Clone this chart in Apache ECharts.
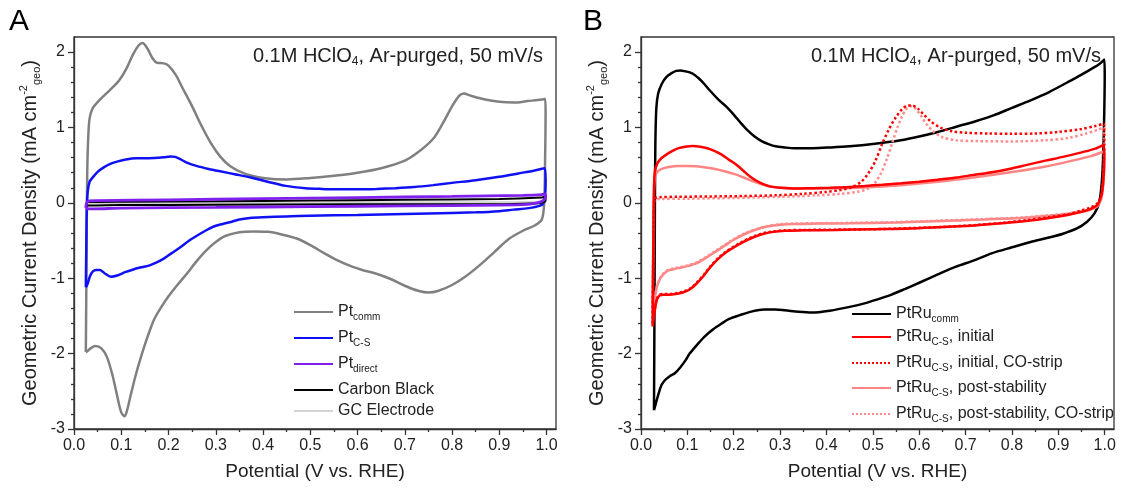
<!DOCTYPE html>
<html>
<head>
<meta charset="utf-8">
<script src="https://cdn.jsdelivr.net/npm/echarts@6/dist/echarts.min.js"></script>
<style>
  html, body { margin: 0; padding: 0; background: #fff; }
  #chart { width: 1124px; height: 491px; }
</style>
</head>
<body>
<div id="chart"></div>
<script>
// ---- tick values ----
const xMajorTicks = [0, 0.1, 0.2, 0.3, 0.4, 0.5, 0.6, 0.7, 0.8, 0.9, 1.0];
const xMinorTicks = [0.05, 0.15, 0.25, 0.35, 0.45, 0.55, 0.65, 0.75, 0.85, 0.95];
const yMajorTicks = [-3, -2, -1, 0, 1, 2];
const yMinorTicks = [-2.8, -2.6, -2.4, -2.2, -1.8, -1.6, -1.4, -1.2, -0.8, -0.6, -0.4, -0.2,
  0.2, 0.4, 0.6, 0.8, 1.2, 1.4, 1.6, 1.8];

// ---- panel A: Pt (potential V, current mA/cm2) ----
const ptCommAnodic = [[0.025,-1.98],[0.026,-1.2],[0.027,-0.3],[0.028,0.4],[0.030,0.85],[0.033,1.12],[0.040,1.26],
  [0.055,1.37],[0.075,1.49],[0.095,1.62],[0.110,1.77],[0.125,1.97],[0.137,2.09],[0.145,2.12],[0.155,2.05],
  [0.165,1.93],[0.175,1.86],[0.190,1.85],[0.200,1.82],[0.215,1.70],[0.230,1.52],[0.250,1.28],[0.270,1.02],
  [0.290,0.79],[0.310,0.61],[0.330,0.49],[0.360,0.39],[0.390,0.34],[0.420,0.315],[0.450,0.31],[0.500,0.33],
  [0.550,0.36],[0.600,0.40],[0.650,0.46],[0.700,0.56],[0.730,0.68],[0.760,0.85],[0.780,1.05],[0.800,1.28],
  [0.815,1.42],[0.825,1.45],[0.840,1.42],[0.870,1.37],[0.900,1.34],[0.930,1.33],[0.960,1.35],[0.990,1.37],[0.997,1.38]];
const ptCommCathodic = [[0.998,1.2],[0.997,0.6],[0.995,0.0],[0.990,-0.22],[0.975,-0.30],[0.950,-0.37],[0.920,-0.48],
  [0.890,-0.65],[0.860,-0.82],[0.830,-0.97],[0.800,-1.09],[0.770,-1.17],[0.750,-1.19],[0.730,-1.17],[0.700,-1.10],
  [0.670,-1.01],[0.640,-0.94],[0.610,-0.89],[0.590,-0.85],[0.560,-0.77],[0.530,-0.67],[0.500,-0.56],[0.470,-0.47],
  [0.440,-0.42],[0.410,-0.385],[0.380,-0.38],[0.350,-0.39],[0.320,-0.44],[0.300,-0.52],[0.280,-0.63],[0.260,-0.77],
  [0.240,-0.93],[0.220,-1.08],[0.200,-1.24],[0.185,-1.38],[0.170,-1.54],[0.160,-1.70],[0.150,-1.88],[0.140,-2.08],
  [0.130,-2.30],[0.120,-2.55],[0.112,-2.76],[0.107,-2.83],[0.100,-2.78],[0.092,-2.58],[0.082,-2.30],[0.070,-2.05],
  [0.058,-1.93],[0.045,-1.90],[0.035,-1.93],[0.028,-1.97],[0.025,-1.98]];

const ptCsAnodic = [[0.025,-1.12],[0.026,-0.6],[0.027,-0.1],[0.029,0.15],[0.033,0.28],[0.040,0.34],[0.050,0.41],
  [0.063,0.47],[0.078,0.52],[0.093,0.55],[0.110,0.575],[0.131,0.59],[0.150,0.59],[0.170,0.595],[0.190,0.605],
  [0.205,0.615],[0.214,0.61],[0.225,0.58],[0.240,0.53],[0.259,0.49],[0.285,0.45],[0.312,0.415],[0.340,0.38],
  [0.372,0.34],[0.410,0.28],[0.448,0.225],[0.490,0.195],[0.524,0.185],[0.560,0.18],[0.600,0.18],[0.640,0.185],
  [0.680,0.195],[0.720,0.21],[0.760,0.235],[0.800,0.265],[0.850,0.30],[0.900,0.345],[0.940,0.39],[0.975,0.43],[0.996,0.46]];
const ptCsCathodic = [[0.998,0.3],[0.997,0.1],[0.994,0.0],[0.985,-0.04],[0.962,-0.07],[0.930,-0.09],[0.900,-0.11],
  [0.850,-0.125],[0.750,-0.14],[0.600,-0.16],[0.500,-0.17],[0.448,-0.18],[0.400,-0.19],[0.372,-0.20],[0.350,-0.22],
  [0.334,-0.25],[0.315,-0.28],[0.297,-0.31],[0.278,-0.37],[0.259,-0.44],[0.244,-0.50],[0.225,-0.59],[0.206,-0.67],
  [0.190,-0.74],[0.175,-0.79],[0.160,-0.83],[0.146,-0.85],[0.127,-0.88],[0.108,-0.92],[0.093,-0.96],[0.078,-0.98],
  [0.066,-0.94],[0.055,-0.89],[0.047,-0.89],[0.040,-0.91],[0.034,-0.97],[0.030,-1.05],[0.027,-1.10],[0.025,-1.12]];

const ptDirectAnodic = [[0.025,-0.07],[0.026,-0.02],[0.028,0.01],[0.032,0.025],[0.050,0.03],[0.200,0.04],
  [0.400,0.055],[0.600,0.07],[0.800,0.085],[0.950,0.10],[0.990,0.11],[0.997,0.12]];
const ptDirectCathodic = [[0.998,0.09],[0.996,0.05],[0.990,0.02],[0.980,0.0],[0.960,-0.02],[0.900,-0.03],
  [0.700,-0.04],[0.500,-0.05],[0.300,-0.06],[0.100,-0.07],[0.040,-0.08],[0.030,-0.08],[0.025,-0.07]];

const carbonAnodic = [[0.025,-0.03],[0.027,0.0],[0.030,0.01],[0.100,0.015],[0.300,0.02],[0.500,0.03],
  [0.700,0.04],[0.900,0.05],[0.990,0.07],[0.998,0.08]];
const carbonCathodic = [[0.998,0.03],[0.990,0.0],[0.970,-0.01],[0.900,-0.02],[0.600,-0.02],[0.300,-0.025],
  [0.100,-0.03],[0.030,-0.035],[0.025,-0.03]];

const gcAnodic = [[0.025,-0.01],[0.030,0.005],[0.300,0.008],[0.700,0.01],[0.998,0.015]];
const gcCathodic = [[0.998,0.0],[0.900,-0.008],[0.500,-0.01],[0.100,-0.012],[0.025,-0.01]];

// ---- panel B: PtRu ----
const ptruCommAnodic = [[0.028,-2.75],[0.029,-1.5],[0.030,0.0],[0.031,0.8],[0.033,1.25],[0.037,1.45],[0.045,1.58],
  [0.055,1.67],[0.066,1.72],[0.076,1.75],[0.085,1.755],[0.095,1.745],[0.105,1.73],[0.115,1.70],[0.125,1.65],
  [0.136,1.58],[0.150,1.48],[0.167,1.37],[0.185,1.27],[0.200,1.17],[0.215,1.06],[0.230,0.96],[0.245,0.88],
  [0.260,0.82],[0.275,0.78],[0.290,0.75],[0.310,0.735],[0.330,0.725],[0.370,0.725],[0.410,0.735],[0.450,0.75],
  [0.500,0.78],[0.560,0.83],[0.600,0.88],[0.640,0.94],[0.680,1.01],[0.720,1.08],[0.760,1.16],[0.800,1.26],
  [0.840,1.36],[0.880,1.47],[0.920,1.60],[0.950,1.70],[0.975,1.79],[0.990,1.85],[0.999,1.90]];
const ptruCommCathodic = [[1.000,1.7],[0.999,1.2],[0.997,0.7],[0.994,0.3],[0.988,0.0],[0.978,-0.14],[0.962,-0.25],
  [0.940,-0.34],[0.910,-0.41],[0.880,-0.46],[0.840,-0.52],[0.800,-0.59],[0.756,-0.67],[0.720,-0.76],[0.678,-0.85],
  [0.640,-0.95],[0.600,-1.06],[0.570,-1.14],[0.539,-1.22],[0.510,-1.28],[0.484,-1.33],[0.450,-1.38],[0.407,-1.43],
  [0.368,-1.455],[0.340,-1.445],[0.310,-1.425],[0.290,-1.415],[0.265,-1.415],[0.240,-1.44],[0.213,-1.49],
  [0.190,-1.54],[0.174,-1.60],[0.155,-1.68],[0.136,-1.78],[0.120,-1.89],[0.105,-2.00],[0.097,-2.08],[0.085,-2.18],
  [0.073,-2.26],[0.062,-2.30],[0.052,-2.35],[0.044,-2.42],[0.037,-2.55],[0.032,-2.66],[0.028,-2.75]];

const csInitialAnodic = [[0.025,-1.64],[0.026,-1.0],[0.027,-0.3],[0.028,0.2],[0.030,0.42],[0.035,0.52],[0.042,0.58],
  [0.050,0.62],[0.065,0.68],[0.081,0.725],[0.095,0.745],[0.112,0.755],[0.128,0.745],[0.143,0.725],[0.158,0.69],
  [0.174,0.64],[0.190,0.57],[0.205,0.51],[0.220,0.43],[0.235,0.35],[0.250,0.29],[0.265,0.245],[0.280,0.215],
  [0.300,0.20],[0.331,0.19],[0.370,0.195],[0.407,0.20],[0.450,0.21],[0.484,0.225],[0.520,0.24],[0.562,0.26],
  [0.600,0.28],[0.639,0.305],[0.680,0.335],[0.717,0.37],[0.760,0.41],[0.794,0.45],[0.830,0.50],[0.872,0.56],
  [0.910,0.61],[0.950,0.67],[0.980,0.72],[0.998,0.77]];
const csInitialCathodic = [[0.999,0.6],[0.997,0.3],[0.993,0.1],[0.985,-0.02],[0.970,-0.08],[0.950,-0.12],
  [0.920,-0.16],[0.880,-0.20],[0.830,-0.24],[0.780,-0.27],[0.720,-0.30],[0.650,-0.32],[0.580,-0.34],[0.500,-0.35],
  [0.420,-0.36],[0.350,-0.365],[0.310,-0.37],[0.285,-0.385],[0.265,-0.41],[0.245,-0.45],[0.230,-0.49],[0.217,-0.53],
  [0.200,-0.59],[0.185,-0.65],[0.167,-0.74],[0.150,-0.85],[0.136,-0.96],[0.120,-1.07],[0.105,-1.15],[0.090,-1.19],
  [0.075,-1.21],[0.060,-1.22],[0.048,-1.22],[0.040,-1.23],[0.034,-1.29],[0.030,-1.42],[0.027,-1.55],[0.025,-1.64]];

const csInitialCoAnodic = [[0.025,-1.6],[0.026,-1.0],[0.027,-0.4],[0.028,0.0],[0.030,0.06],[0.040,0.075],
  [0.080,0.08],[0.150,0.085],[0.220,0.09],[0.290,0.10],[0.350,0.12],[0.400,0.145],[0.430,0.17],[0.455,0.21],
  [0.475,0.28],[0.490,0.39],[0.505,0.55],[0.520,0.78],[0.535,0.98],[0.550,1.14],[0.563,1.24],[0.575,1.29],
  [0.585,1.29],[0.597,1.25],[0.610,1.17],[0.625,1.08],[0.645,1.00],[0.670,0.95],[0.700,0.93],[0.750,0.92],
  [0.800,0.915],[0.850,0.92],[0.900,0.94],[0.950,0.98],[0.980,1.02],[0.998,1.05]];
const csInitialCoCathodic = [[0.999,0.8],[0.997,0.4],[0.993,0.12],[0.985,0.0],[0.970,-0.06],[0.950,-0.10],
  [0.920,-0.15],[0.880,-0.19],[0.830,-0.23],[0.780,-0.265],[0.720,-0.295],[0.650,-0.32],[0.580,-0.335],
  [0.500,-0.35],[0.420,-0.355],[0.350,-0.36],[0.310,-0.365],[0.285,-0.38],[0.265,-0.40],[0.245,-0.44],
  [0.230,-0.48],[0.217,-0.52],[0.200,-0.58],[0.185,-0.64],[0.167,-0.73],[0.150,-0.84],[0.136,-0.95],
  [0.120,-1.06],[0.105,-1.14],[0.090,-1.18],[0.075,-1.20],[0.060,-1.21],[0.048,-1.21],[0.040,-1.22],
  [0.034,-1.28],[0.030,-1.40],[0.027,-1.52],[0.025,-1.60]];

const csPostAnodic = [[0.025,-1.4],[0.026,-0.8],[0.027,-0.2],[0.028,0.15],[0.030,0.33],[0.035,0.41],[0.045,0.45],
  [0.060,0.475],[0.080,0.49],[0.100,0.49],[0.120,0.485],[0.140,0.47],[0.160,0.45],[0.180,0.42],[0.200,0.385],
  [0.220,0.34],[0.240,0.29],[0.260,0.245],[0.280,0.215],[0.300,0.20],[0.340,0.19],[0.400,0.19],[0.480,0.205],
  [0.560,0.235],[0.640,0.28],[0.720,0.34],[0.800,0.41],[0.870,0.48],[0.930,0.56],[0.970,0.62],[0.998,0.68]];
const csPostCathodic = [[0.999,0.5],[0.997,0.25],[0.993,0.07],[0.985,-0.04],[0.970,-0.09],[0.950,-0.12],
  [0.920,-0.15],[0.880,-0.17],[0.820,-0.20],[0.740,-0.22],[0.650,-0.24],[0.550,-0.26],[0.450,-0.27],[0.380,-0.275],
  [0.330,-0.28],[0.300,-0.29],[0.275,-0.31],[0.250,-0.35],[0.225,-0.41],[0.200,-0.49],[0.180,-0.57],[0.160,-0.65],
  [0.140,-0.73],[0.120,-0.80],[0.100,-0.84],[0.085,-0.86],[0.070,-0.88],[0.058,-0.90],[0.048,-0.95],[0.040,-1.02],
  [0.034,-1.12],[0.030,-1.25],[0.027,-1.34],[0.025,-1.40]];

const csPostCoAnodic = [[0.025,-1.45],[0.026,-0.8],[0.027,-0.3],[0.028,0.0],[0.030,0.04],[0.040,0.05],
  [0.100,0.055],[0.200,0.065],[0.300,0.08],[0.380,0.10],[0.430,0.12],[0.470,0.15],[0.490,0.19],[0.505,0.27],
  [0.518,0.40],[0.530,0.58],[0.542,0.80],[0.553,1.00],[0.563,1.15],[0.573,1.25],[0.582,1.28],[0.592,1.25],
  [0.603,1.16],[0.615,1.05],[0.630,0.95],[0.650,0.87],[0.680,0.83],[0.720,0.82],[0.800,0.815],[0.870,0.83],
  [0.920,0.86],[0.960,0.92],[0.985,0.97],[0.998,1.00]];
const csPostCoCathodic = [[0.999,0.7],[0.997,0.3],[0.993,0.08],[0.985,-0.03],[0.970,-0.08],[0.950,-0.11],
  [0.920,-0.14],[0.880,-0.165],[0.820,-0.195],[0.740,-0.215],[0.650,-0.235],[0.550,-0.255],[0.450,-0.265],
  [0.380,-0.27],[0.330,-0.275],[0.300,-0.285],[0.275,-0.305],[0.250,-0.345],[0.225,-0.40],[0.200,-0.48],
  [0.180,-0.56],[0.160,-0.64],[0.140,-0.72],[0.120,-0.79],[0.100,-0.83],[0.085,-0.85],[0.070,-0.87],
  [0.058,-0.89],[0.048,-0.94],[0.040,-1.01],[0.034,-1.12],[0.030,-1.26],[0.027,-1.37],[0.025,-1.45]];

// legend text (rich, with subscripts)
const legendLabels = {
  'Pt_comm': '{m|Pt}{s|comm}',
  'Pt_C-S': '{m|Pt}{s|C-S}',
  'Pt_direct': '{m|Pt}{s|direct}',
  'Carbon Black': '{m|Carbon Black}',
  'GC Electrode': '{m|GC Electrode}',
  'PtRu_comm': '{m|PtRu}{s|comm}',
  'PtRu_C-S, initial': '{m|PtRu}{s|C-S}{m|, initial}',
  'PtRu_C-S, initial, CO-strip': '{m|PtRu}{s|C-S}{m|, initial, CO-strip}',
  'PtRu_C-S, post-stability': '{m|PtRu}{s|C-S}{m|, post-stability}',
  'PtRu_C-S, post-stability, CO-strip': '{m|PtRu}{s|C-S}{m|, post-stability, CO-strip}'
};

const FONT = '"Liberation Sans", Arial, Helvetica, sans-serif';
const AXIS_COLOR = '#333';
const TEXT_COLOR = '#222';

const chart = echarts.init(document.getElementById('chart'));

function makeAxes(gridIndex, isX) {
  const titleSize = 20;
  const main = {
    gridIndex: gridIndex,
    type: 'value',
    position: isX ? 'bottom' : 'left',
    min: isX ? 0 : -3,
    max: isX ? 1.02 : 2.2,
    axisLine: { show: true, onZero: false, lineStyle: { color: AXIS_COLOR, width: 1.3 } },
    axisTick: { show: true, customValues: isX ? xMajorTicks : yMajorTicks, length: 6,
      lineStyle: { color: AXIS_COLOR, width: 1.3 } },
    axisLabel: { customValues: isX ? xMajorTicks : yMajorTicks, margin: 9, fontSize: 16,
      color: TEXT_COLOR, fontFamily: FONT,
      formatter: v => isX ? v.toFixed(1) : String(v) },
    splitLine: { show: false },
    name: isX ? 'Potential (V vs. RHE)'
      : '{m|Geometric Current Density (mA cm}{sup|-2}{sub|geo}{m|)}',
    nameLocation: 'middle',
    nameGap: isX ? 33 : 32,
    nameTextStyle: {
      fontSize: isX ? 19 : titleSize, color: TEXT_COLOR, fontFamily: FONT,
      rich: {
        m: { fontSize: titleSize, lineHeight: 24, fontFamily: FONT, color: TEXT_COLOR },
        sup: { fontSize: 11, lineHeight: 11, verticalAlign: 'top', fontFamily: FONT, color: TEXT_COLOR },
        sub: { fontSize: 11, lineHeight: 11, verticalAlign: 'bottom', fontFamily: FONT, color: TEXT_COLOR }
      }
    }
  };
  // second axis on the same side, only for the short minor ticks
  const minor = {
    gridIndex: gridIndex,
    type: 'value',
    position: isX ? 'bottom' : 'left',
    offset: 0,
    min: isX ? 0 : -3,
    max: isX ? 1.02 : 2.2,
    axisLine: { show: false, onZero: false },
    axisTick: { show: true, customValues: isX ? xMinorTicks : yMinorTicks, length: 3,
      lineStyle: { color: AXIS_COLOR, width: 1.3 } },
    axisLabel: { show: false },
    splitLine: { show: false }
  };
  return [main, minor];
}

function curve(name, anodic, cathodic, color, width, type, xIdx) {
  return {
    name: name,
    type: 'line',
    xAxisIndex: xIdx,
    yAxisIndex: xIdx,
    data: anodic.concat(cathodic),
    showSymbol: false,
    symbol: 'none',
    smooth: 0.3,
    lineStyle: { color: color, width: width, type: type },
    itemStyle: { color: color }
  };
}

function legendAt(name, left, top) {
  return {
    data: [name],
    left: left,
    top: top,
    orient: 'vertical',
    padding: 0,
    itemWidth: 39,
    itemHeight: 14,
    selectedMode: false,
    itemStyle: { opacity: 0 },
    formatter: n => legendLabels[n],
    textStyle: {
      fontSize: 16, color: TEXT_COLOR, fontFamily: FONT,
      rich: {
        m: { fontSize: 16, lineHeight: 20, fontFamily: FONT, color: TEXT_COLOR },
        s: { fontSize: 10, lineHeight: 10, verticalAlign: 'bottom', fontFamily: FONT, color: TEXT_COLOR }
      }
    }
  };
}

const noteStyle = {
  fontSize: 20, color: TEXT_COLOR, fontFamily: FONT, fontWeight: 'normal',
  rich: {
    m: { fontSize: 20, lineHeight: 24, fontFamily: FONT, color: TEXT_COLOR },
    s: { fontSize: 12, lineHeight: 12, verticalAlign: 'bottom', fontFamily: FONT, color: TEXT_COLOR }
  }
};
const noteText = '{m|0.1M HClO}{s|4}{m|, Ar-purged, 50 mV/s}';
const letterStyle = { fontSize: 30, color: '#000', fontFamily: FONT, fontWeight: 'normal' };

const option = {
  animation: false,
  backgroundColor: '#fff',
  title: [
    { text: 'A', left: 9, top: 7, padding: 0, textStyle: letterStyle },
    { text: 'B', left: 583, top: 7, padding: 0, textStyle: letterStyle },
    { text: noteText, right: 581, top: 44, padding: 0, textStyle: noteStyle },
    { text: noteText, right: 23, top: 44, padding: 0, textStyle: noteStyle }
  ],
  grid: [
    { left: 74, top: 37, width: 482, height: 392, show: true, borderColor: AXIS_COLOR, borderWidth: 1.3, backgroundColor: 'transparent' },
    { left: 641, top: 37, width: 473, height: 392, show: true, borderColor: AXIS_COLOR, borderWidth: 1.3, backgroundColor: 'transparent' }
  ],
  xAxis: [].concat(makeAxes(0, true), makeAxes(1, true)),
  yAxis: [].concat(makeAxes(0, false), makeAxes(1, false)),
  legend: [
    legendAt('Pt_comm', 293, 304),
    legendAt('Pt_C-S', 293, 330),
    legendAt('Pt_direct', 293, 356),
    legendAt('Carbon Black', 293, 382),
    legendAt('GC Electrode', 293, 403),
    legendAt('PtRu_comm', 851, 306),
    legendAt('PtRu_C-S, initial', 851, 329),
    legendAt('PtRu_C-S, initial, CO-strip', 851, 355),
    legendAt('PtRu_C-S, post-stability', 851, 380),
    legendAt('PtRu_C-S, post-stability, CO-strip', 851, 406)
  ],
  series: [
    curve('Pt_comm', ptCommAnodic, ptCommCathodic, '#808080', 2.5, 'solid', 0),
    curve('Pt_C-S', ptCsAnodic, ptCsCathodic, '#1010f5', 2.5, 'solid', 0),
    curve('GC Electrode', gcAnodic, gcCathodic, '#d4d4d4', 1.5, 'solid', 0),
    curve('Carbon Black', carbonAnodic, carbonCathodic, '#000000', 2, 'solid', 0),
    curve('Pt_direct', ptDirectAnodic, ptDirectCathodic, '#8020ee', 2.8, 'solid', 0),
    curve('PtRu_comm', ptruCommAnodic, ptruCommCathodic, '#000000', 2.5, 'solid', 2),
    curve('PtRu_C-S, post-stability', csPostAnodic, csPostCathodic, '#ff8484', 2.5, 'solid', 2),
    curve('PtRu_C-S, post-stability, CO-strip', csPostCoAnodic, csPostCoCathodic, '#ff8c8c', 2.5, 'dotted', 2),
    curve('PtRu_C-S, initial', csInitialAnodic, csInitialCathodic, '#ff0000', 2.5, 'solid', 2),
    curve('PtRu_C-S, initial, CO-strip', csInitialCoAnodic, csInitialCoCathodic, '#ff0000', 2.5, 'dotted', 2)
  ]
};

chart.setOption(option);
</script>
</body>
</html>
